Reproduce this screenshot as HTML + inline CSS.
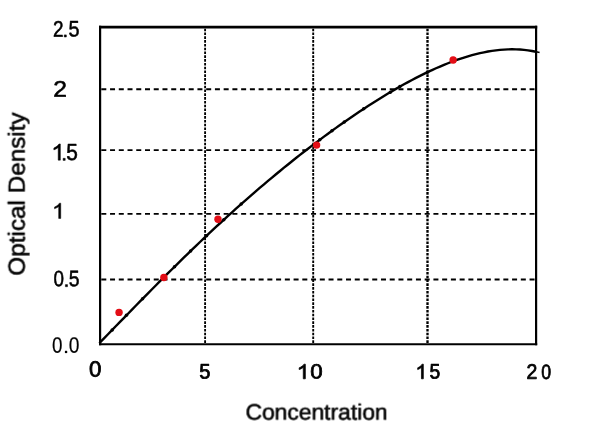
<!DOCTYPE html>
<html><head><meta charset="utf-8"><title>Standard curve</title>
<style>html,body{margin:0;padding:0;background:#fff;}body{width:600px;height:435px;overflow:hidden;font-family:"Liberation Sans",sans-serif;}svg{display:block;}</style>
</head><body>
<svg width="600" height="435" viewBox="0 0 600 435">
<defs><filter id="soft" x="0" y="0" width="600" height="435" filterUnits="userSpaceOnUse"><feGaussianBlur stdDeviation="0.42"/></filter></defs>
<rect x="0" y="0" width="600" height="435" fill="#fff"/>
<g filter="url(#soft)">
<rect x="0" y="0" width="600" height="435" fill="#fff"/>
<g stroke="#000" fill="none">
<line x1="101.3" y1="89.3" x2="536.1" y2="89.3" stroke-width="1.9" stroke-dasharray="5 3.74"/>
<line x1="101.3" y1="150.1" x2="536.1" y2="150.1" stroke-width="1.9" stroke-dasharray="5 3.74"/>
<line x1="101.3" y1="213.8" x2="536.1" y2="213.8" stroke-width="1.85" stroke-dasharray="5 3.74"/>
<line x1="101.3" y1="279.5" x2="536.1" y2="279.5" stroke-width="2.05" stroke-dasharray="5 3.74"/>
<line x1="205.1" y1="28.700000000000003" x2="205.1" y2="344.2" stroke-width="1.85" stroke-dasharray="2.6 1.2"/>
<line x1="313.2" y1="28.700000000000003" x2="313.2" y2="344.2" stroke-width="1.9" stroke-dasharray="2.6 1.2"/>
<line x1="427.5" y1="28.700000000000003" x2="427.5" y2="344.2" stroke-width="2.35" stroke-dasharray="2.6 1.2"/>
</g>
<g stroke="#000" fill="none" stroke-linecap="butt">
<line x1="99.0" y1="27.1" x2="537.2" y2="27.1" stroke-width="2.8"/>
<line x1="99.0" y1="344.2" x2="537.2" y2="344.2" stroke-width="2.1"/>
<line x1="100.1" y1="25.700000000000003" x2="100.1" y2="345.25" stroke-width="2.2"/>
<line x1="536.1" y1="25.700000000000003" x2="536.1" y2="345.25" stroke-width="2.2"/>
</g>
<path d="M100.0,342.42 L104.0,338.33 L108.0,334.24 L112.0,330.13 L116.0,326.03 L120.0,321.92 L124.0,317.82 L128.0,313.72 L132.0,309.62 L136.0,305.53 L140.0,301.44 L144.0,297.37 L148.0,293.31 L152.0,289.26 L156.0,285.22 L160.0,281.20 L164.0,277.19 L168.0,273.20 L172.0,269.23 L176.0,265.28 L180.0,261.34 L184.0,257.43 L188.0,253.54 L192.0,249.67 L196.0,245.82 L200.0,242.00 L204.0,238.20 L208.0,234.43 L212.0,230.67 L216.0,226.95 L220.0,223.25 L224.0,219.57 L228.0,215.92 L232.0,212.30 L236.0,208.71 L240.0,205.14 L244.0,201.60 L248.0,198.08 L252.0,194.59 L256.0,191.13 L260.0,187.70 L264.0,184.29 L268.0,180.92 L272.0,177.57 L276.0,174.25 L280.0,170.95 L284.0,167.69 L288.0,164.45 L292.0,161.24 L296.0,158.06 L300.0,154.91 L304.0,151.79 L308.0,148.70 L312.0,145.63 L316.0,142.60 L320.0,139.60 L324.0,136.62 L328.0,133.68 L332.0,130.77 L336.0,127.89 L340.0,125.04 L344.0,122.22 L348.0,119.44 L352.0,116.68 L356.0,113.97 L360.0,111.28 L364.0,108.64 L368.0,106.03 L372.0,103.45 L376.0,100.92 L380.0,98.42 L384.0,95.96 L388.0,93.54 L392.0,91.17 L396.0,88.84 L400.0,86.55 L404.0,84.31 L408.0,82.12 L412.0,79.98 L416.0,77.89 L420.0,75.85 L424.0,73.87 L428.0,71.94 L432.0,70.07 L436.0,68.27 L440.0,66.53 L444.0,64.85 L448.0,63.24 L452.0,61.70 L456.0,60.24 L460.0,58.85 L464.0,57.54 L468.0,56.32 L472.0,55.18 L476.0,54.13 L480.0,53.17 L484.0,52.31 L488.0,51.54 L492.0,50.89 L496.0,50.34 L500.0,49.90 L504.0,49.58 L508.0,49.38 L512.0,49.30 L516.0,49.36 L520.0,49.55 L524.0,49.88 L528.0,50.36 L532.0,50.99 L536.0,51.77" stroke="#000" stroke-width="2.4" fill="none" stroke-linejoin="round" stroke-linecap="round"/>
<path d="M536,51.77 L539.6,52.52" stroke="#000" stroke-width="1.5" fill="none" stroke-linecap="butt"/>
<circle cx="112.2" cy="329.93" r="1.75" fill="#000"/>
<circle cx="126.4" cy="315.36" r="1.75" fill="#000"/>
<circle cx="142.6" cy="298.80" r="1.75" fill="#000"/>
<circle cx="174.5" cy="266.76" r="1.75" fill="#000"/>
<circle cx="190.6" cy="251.02" r="1.75" fill="#000"/>
<circle cx="206.6" cy="235.74" r="1.75" fill="#000"/>
<circle cx="223.8" cy="219.76" r="1.75" fill="#000"/>
<circle cx="241.2" cy="204.07" r="1.75" fill="#000"/>
<circle cx="319.8" cy="139.75" r="1.75" fill="#000"/>
<circle cx="332" cy="130.77" r="1.75" fill="#000"/>
<circle cx="344.3" cy="122.01" r="1.75" fill="#000"/>
<circle cx="363.7" cy="108.83" r="1.75" fill="#000"/>
<circle cx="390.3" cy="92.17" r="1.75" fill="#000"/>
<circle cx="399.9" cy="86.61" r="1.75" fill="#000"/>
<circle cx="427.5" cy="72.18" r="1.75" fill="#000"/>
<circle cx="119.05" cy="312.4" r="3.7" fill="#e30a12"/>
<circle cx="163.9" cy="277.5" r="3.7" fill="#e30a12"/>
<circle cx="218.0" cy="219.2" r="3.7" fill="#e30a12"/>
<circle cx="316.6" cy="145.1" r="3.7" fill="#e30a12"/>
<circle cx="453.15" cy="60.05" r="3.7" fill="#e30a12"/>
<g font-family="'Liberation Sans', sans-serif" fill="#000" stroke="#000" stroke-width="0.5" stroke-linejoin="round" opacity="0.995" text-rendering="geometricPrecision">
<text transform="translate(52.90,36.75) rotate(0.03) scale(0.9439,1.1314)" font-size="20.0">2</text>
<rect x="64.25" y="34.90" width="2.1" height="2.1"/>
<text transform="translate(68.46,36.53) rotate(0.03) scale(0.9913,1.1322)" font-size="20.0">5</text>
<text transform="translate(53.31,96.75) rotate(0.03) scale(1.2292,1.1314)" font-size="20.0">2</text>
<path transform="translate(51.17,160.15) scale(0.01204,-0.01101)" d="M763 0H583V1147Q518 1085 412.5 1023Q307 961 223 930V1104Q374 1175 487 1276Q600 1377 647 1472H763Z" vector-effect="non-scaling-stroke"/>
<rect x="63.10" y="158.30" width="2.1" height="2.1"/>
<text transform="translate(66.21,159.92) rotate(0.03) scale(1.0440,1.1609)" font-size="20.0">5</text>
<path transform="translate(51.99,218.45) scale(0.01148,-0.01039)" d="M763 0H583V1147Q518 1085 412.5 1023Q307 961 223 930V1104Q374 1175 487 1276Q600 1377 647 1472H763Z" vector-effect="non-scaling-stroke"/>
<text transform="translate(53.51,286.23) rotate(0.03) scale(0.9414,1.1158)" font-size="20.0">0</text>
<rect x="65.40" y="284.60" width="2.1" height="2.1"/>
<text transform="translate(68.77,286.23) rotate(0.03) scale(0.9702,1.1322)" font-size="20.0">5</text>
<g stroke-width="0.2">
<text transform="translate(51.96,352.68) rotate(0.03) scale(0.9414,1.1158)" font-size="20.0">0</text>
<rect x="65.00" y="350.90" width="2.1" height="2.1"/>
<text transform="translate(68.85,352.68) rotate(0.03) scale(0.9623,1.1158)" font-size="20.0">0</text>
</g>
<g stroke-width="0.75">
<text transform="translate(89.10,376.61) rotate(0.03) scale(1.1140,1.0911)" font-size="20.0">0</text>
<text transform="translate(199.17,378.42) rotate(0.03) scale(1.0071,1.0498)" font-size="20.0">5</text>
<path transform="translate(296.64,378.82) scale(0.01139,-0.00995)" d="M763 0H583V1147Q518 1085 412.5 1023Q307 961 223 930V1104Q374 1175 487 1276Q600 1377 647 1472H763Z" vector-effect="non-scaling-stroke"/>
<text transform="translate(310.30,378.62) rotate(0.03) scale(1.1140,1.0346)" font-size="20.0">0</text>
<path transform="translate(415.34,378.82) scale(0.01046,-0.00995)" d="M763 0H583V1147Q518 1085 412.5 1023Q307 961 223 930V1104Q374 1175 487 1276Q600 1377 647 1472H763Z" vector-effect="non-scaling-stroke"/>
<text transform="translate(429.40,378.62) rotate(0.03) scale(0.9649,1.0498)" font-size="20.0">5</text>
<text transform="translate(526.50,378.82) rotate(0.03) scale(0.9713,1.0491)" font-size="20.0">2</text>
<text transform="translate(541.18,378.62) rotate(0.03) scale(0.8838,1.0346)" font-size="20.0">0</text>
</g>
<text transform="translate(245.49,419.53) rotate(0.03) scale(1.1415,1.1098)" font-size="20.0">Concentration</text>
<text transform="translate(24.87,275.65) rotate(-90) scale(1.1038,1.0582)" font-size="22.0">Optical Density</text>
</g>
</g>
</svg>
</body></html>
